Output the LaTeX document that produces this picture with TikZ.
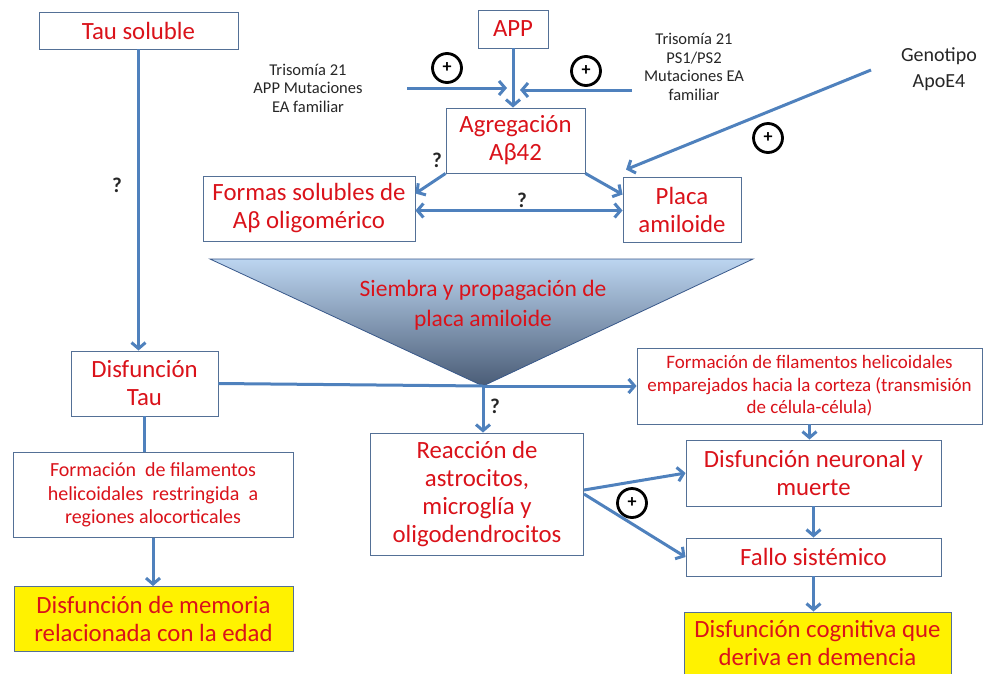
\documentclass[tikz,border=0pt]{standalone}
\usepackage{fontspec}
\setmainfont{Carlito}
\usetikzlibrary{arrows.meta}

\definecolor{redtext}{RGB}{218,18,26}
\definecolor{arrowblue}{RGB}{79,129,189}
\definecolor{boxblue}{RGB}{84,112,150}
\definecolor{tritop}{RGB}{188,213,240}
\definecolor{tribot}{RGB}{74,92,118}
\definecolor{triline}{RGB}{56,88,138}

\tikzset{
  box/.style={draw=boxblue, line width=0.9pt, fill=white, text=redtext, align=center,
    inner sep=2pt, font=\fontsize{24.8}{28}\selectfont},
  smallbox/.style={box, font=\fontsize{20}{23.5}\selectfont},
  goal/.style={box, fill=yellow},
  link/.style={draw=arrowblue, line width=3pt},
  flow/.style={link, -{Straight Barb[length=6pt,width=14pt]}},
  plus/.style={circle, draw=black, line width=2.8pt, minimum size=29pt, inner sep=0pt,
    font=\bfseries\fontsize{18}{18}\selectfont},
  qmark/.style={font=\bfseries\fontsize{21}{21}\selectfont, text=black!85},
  note/.style={align=center, text=black!85, font=\fontsize{16.5}{18.5}\selectfont}
}

\begin{document}
\begin{tikzpicture}[x=1pt, y=-1pt]
    \useasboundingbox (0,0) rectangle (983,673);
    % amyloid branch
    \node[box, minimum width=199pt, minimum height=37pt] (tau) at (138.5,30.5) {Tau soluble};
    \node[box, minimum width=70pt, minimum height=38pt] (app) at (513,29) {APP};
    \node[box, minimum width=139pt, minimum height=65pt] (agg) at (515.5,140.5) {Agregación\\Aβ42};
    \node[box, minimum width=212pt, minimum height=65pt] (olig) at (309,208.5) {Formas solubles de\\Aβ oligomérico};
    \node[box, minimum width=118pt, minimum height=65pt] (placa) at (682,209.5) {Placa\\amiloide};

    \shade[top color=tritop, bottom color=tribot, draw=triline, line width=0.8pt]
      (210,259) -- (753,259) -- (483,386) -- cycle;
    \coordinate (tip) at (483,386);
    \node[text=redtext, align=center, font=\fontsize{23.5}{30}\selectfont] (siembra) at (483,305)
      {Siembra y propagación de\\placa amiloide};

    % tau branch and outcomes
    \node[box, minimum width=147pt, minimum height=65pt] (dtau) at (144.5,383.5) {Disfunción\\Tau};
    \node[box, font=\fontsize{19}{22.5}\selectfont, minimum width=345pt, minimum height=76pt] (pares) at (809.5,386)
      {Formación de filamentos helicoidales\\emparejados hacia la corteza (transmisión\\de célula-célula)};
    \node[box, minimum width=213pt, minimum height=122pt] (reac) at (477,494)
      {Reacción de\\astrocitos,\\microglía y\\oligodendrocitos};
    \node[smallbox, minimum width=280pt, minimum height=85pt] (restr) at (153,495)
      {Formación\ \ de filamentos\\helicoidales\ \ restringida\ \ a\\regiones alocorticales};
    \node[goal, minimum width=279pt, minimum height=65pt] (memoria) at (153.5,619)
      {Disfunción de memoria\\relacionada con la edad};
    \node[box, minimum width=255pt, minimum height=66pt] (neuro) at (813.5,473) {Disfunción neuronal y\\muerte};
    \node[box, minimum width=255pt, minimum height=38pt] (fallo) at (813.5,557) {Fallo sistémico};
    \node[goal, minimum width=267pt, minimum height=62pt] (cogn) at (817.5,643)
      {Disfunción cognitiva que\\deriva en demencia};

    % risk factors
    \node[note] (riskL) at (308,88) {Trisomía 21\\APP Mutaciones\\EA familiar};
    \node[note] (riskR) at (694,67) {Trisomía 21\\PS1/PS2\\Mutaciones EA\\familiar};
    \node[note, font=\fontsize{20}{26}\selectfont] (apoe) at (939,69) {Genotipo\\ApoE4};
    \coordinate (leftin) at (407,88);
    \coordinate (leftend) at (507,88);
    \coordinate (rightin) at (632,90);
    \coordinate (rightend) at (520,90);
    \coordinate (apoein) at (871,70);

    \node[plus] (p1) at (447,68) {+};
    \node[plus] (p2) at (586,71) {+};
    \node[plus] (p3) at (768,138) {+};
    \node[plus] (p4) at (632,503) {+};
    \node[qmark] (q1) at (117,185) {?};
    \node[qmark] (q2) at (437,160) {?};
    \node[qmark] (q3) at (522,200) {?};
    \node[qmark] (q4) at (495,406) {?};

    % connectors
    \draw[flow] (tau.south) -- (tau.south |- dtau.north);
    \draw[flow] (app.south) -- (app.south |- agg.north);
    \draw[flow] (leftin) -- (leftend);
    \draw[flow] (rightin) -- (rightend);
    \draw[flow] (apoein) -- ([xshift=-56pt,yshift=7pt]placa.north);
    \draw[flow] (agg.south west) -- ([yshift=15pt]olig.east);
    \draw[flow] (agg.south east) -- ([yshift=15pt]placa.west);
    \draw[link, {Straight Barb[length=6pt,width=14pt]}-{Straight Barb[length=6pt,width=14pt]}]
      ([yshift=-2pt]olig.east) -- ([yshift=-2pt]olig.east -| placa.west);
    \draw[link] (dtau.east) -- (tip);
    \draw[flow] (tip) -- (tip -| pares.west);
    \draw[flow] (tip) -- (tip |- reac.north);
    \draw[link] (dtau.south) -- (dtau.south |- restr.north);
    \draw[flow] (restr.south) -- (restr.south |- memoria.north);
    \draw[flow] (pares.south) -- (pares.south |- neuro.north);
    \draw[flow] ([yshift=4pt]reac.east) -- (neuro.west);
    \draw[flow] (reac.east) -- (fallo.west);
    \draw[flow] (neuro.south) -- (fallo.north);
    \draw[flow] (fallo.south) -- (fallo.south |- cogn.north);
\end{tikzpicture}
\end{document}
